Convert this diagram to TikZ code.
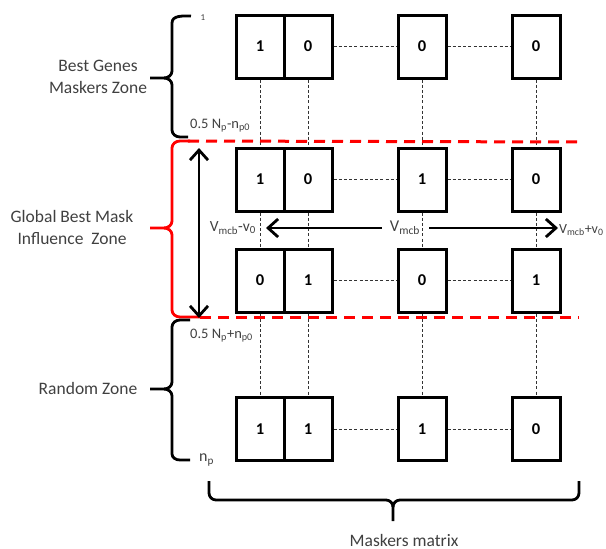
\documentclass[tikz,border=0pt]{standalone}
\usepackage{fontspec}
\setmainfont{Carlito}
\usetikzlibrary{arrows.meta}
\definecolor{txt}{HTML}{404040}
\tikzset{
  x=1pt, y=-1pt,
  cell/.style={draw, line width=3pt, minimum width=48pt, minimum height=63pt, inner sep=0pt, font=\fontsize{16.5}{18}\selectfont\bfseries},
  link/.style={draw=black!80, line width=0.9pt, dash pattern=on 3pt off 2.2pt},
  zone/.style={draw=red, line width=3pt, dash pattern=on 11pt off 7pt},
  brace/.style={draw, line width=2.8pt, line join=round},
  rbrace/.style={draw=red, line width=2.8pt, line join=round},
  lab/.style={text=txt, font=\fontsize{17.5}{22}\selectfont, align=center, inner sep=0pt},
  small/.style={text=txt, font=\fontsize{14.5}{16}\selectfont, inner sep=0pt},
  vel/.style={line width=2.8pt, -{Straight Barb[length=10pt, width=18pt, line width=2.8pt]}},
}
\begin{document}
\begin{tikzpicture}
\useasboundingbox (0,0) rectangle (606,549);

% boxes
\foreach \r/\y/\a/\b/\c/\d in {1/46.5/1/0/0/0, 2/179.5/1/0/1/0, 3/280.5/0/1/0/1, 4/429/1/1/1/0}{
  \node[cell] (r\r c1) at (260,\y) {\a};
  \node[cell] (r\r c2) at (308,\y) {\b};
  \node[cell] (r\r c3) at (422,\y) {\c};
  \node[cell] (r\r c4) at (536,\y) {\d};
}

% horizontal dashed links
\foreach \r in {1,2,3,4}{
  \draw[link] (r\r c2.east) -- (r\r c3.west);
  \draw[link] (r\r c3.east) -- (r\r c4.west);
}
% vertical dashed links
\foreach \c in {1,2,3,4}{
  \draw[link] (r1c\c.south) -- (r2c\c.north);
  \draw[link] (r2c\c.south) -- (r3c\c.north);
  \draw[link] (r3c\c.south) -- (r4c\c.north);
}

% red zone lines
\coordinate (zt1) at (188,141);
\coordinate (zt2) at (579,142);
\coordinate (zb1) at (200,317);
\coordinate (zb2) at (579,317);
\draw[zone] (zt1) -- (zt2);
\draw[zone] (zb1) -- (zb2);

% braces on the left
\draw[brace] (191,16) to[out=180,in=90] (172,23) -- (172,71) to[out=-90,in=0] (164,78) -- (150,78);
\draw[brace] (164,78) to[out=0,in=90] (172,85) -- (172,130) to[out=-90,in=180] (180,137) -- (188,137);

\draw[rbrace] (190,141) -- (180,141) to[out=180,in=90] (172,148) -- (172,221) to[out=-90,in=0] (164,228) -- (150,228);
\draw[rbrace] (164,228) to[out=0,in=90] (172,235) -- (172,310) to[out=-90,in=180] (180,317) -- (200,317);

\draw[brace] (190,320) -- (180,320) to[out=180,in=90] (172,327) -- (172,382) to[out=-90,in=0] (164,389) -- (150,389);
\draw[brace] (164,389) to[out=0,in=90] (172,396) -- (172,454) to[out=-90,in=180] (180,460) -- (190,460);

% bottom brace
\draw[brace] (209,481) -- (209,493) to[out=-90,in=180] (216,500) -- (386,500) to[out=0,in=90] (393,507) -- (393,521);
\draw[brace] (393,507) to[out=90,in=180] (400,500) -- (572,500) to[out=0,in=-90] (579,493) -- (579,481);

% vertical double arrow
\coordinate (da1) at (199,148);
\coordinate (da2) at (199,318);
\draw[line width=2.8pt, {Straight Barb[length=10pt, width=18pt, line width=2.8pt]}-{Straight Barb[length=10pt, width=18pt, line width=2.8pt]}] (da1) -- (da2);

% velocity arrows
\node[small, font=\fontsize{16.5}{18}\selectfont] (vm) at (405,228) {V\textsubscript{mcb}};
\coordinate (vl) at (266,228);
\coordinate (vr) at (558,228);
\draw[vel] (vm.west) ++(-8,0) -- (vl);
\draw[vel] (vm.east) ++(9,0) -- (vr);
\node[small, font=\fontsize{15.5}{17}\selectfont, anchor=east] (vminus) at (256,228) {V\textsubscript{mcb}-v\textsubscript{0}};
\node[small, font=\fontsize{14}{16}\selectfont, anchor=west] (vplus) at (559,230) {V\textsubscript{mcb}+v\textsubscript{0}};

% index labels
\node[small, font=\fontsize{9}{10}\selectfont] (one) at (203,18) {1};
\node[small, anchor=west] (lo) at (190,126) {0.5 N\textsubscript{p}-n\textsubscript{p0}};
\node[small, anchor=west] (hi) at (190,336) {0.5 N\textsubscript{p}+n\textsubscript{p0}};
\node[small, font=\fontsize{16}{18}\selectfont, anchor=west] (np) at (199,460) {n\textsubscript{p}};

% zone labels
\node[lab] (bg) at (98,77) {Best Genes\\Maskers Zone};
\node[lab] (gb) at (72,227) {Global Best Mask\\Influence\ \ Zone};
\node[lab] (rz) at (88,388) {Random Zone};
\node[lab] (mm) at (404,540) {Maskers matrix};
\end{tikzpicture}
\end{document}
